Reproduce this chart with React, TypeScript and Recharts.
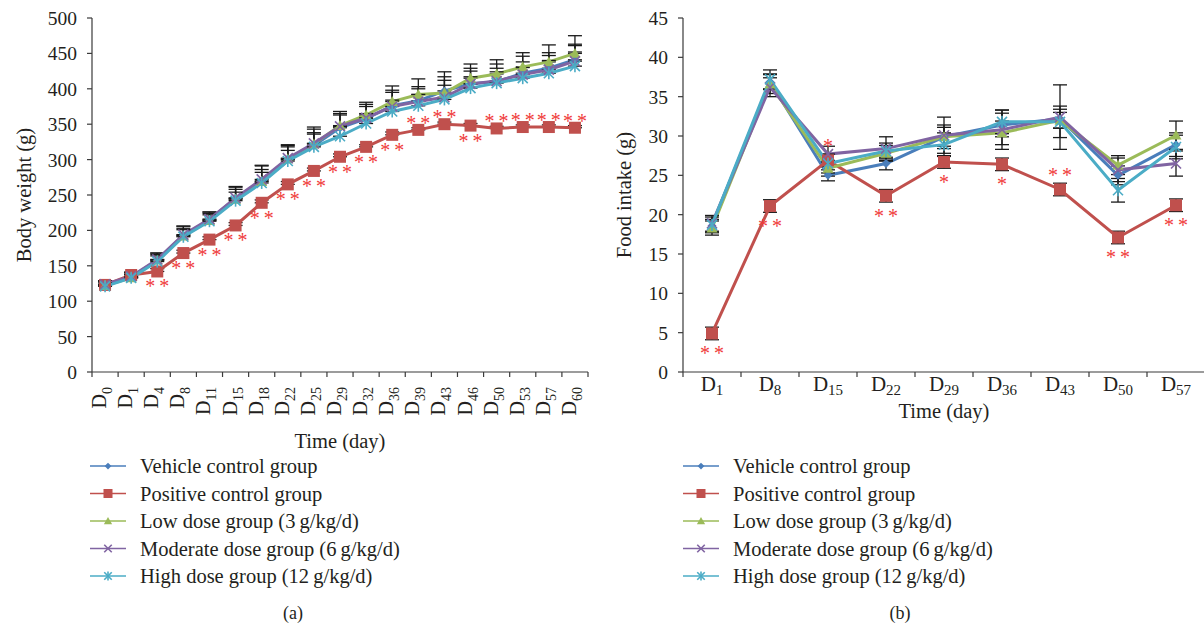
import React from 'react';
import { LineChart, Line, XAxis, YAxis, ErrorBar, LabelList } from 'recharts';

// (a) body weight, days
const leftDays = ['0', '1', '4', '8', '11', '15', '18', '22', '25', '29', '32', '36', '39', '43', '46', '50', '53', '57', '60'];
const leftYTicks = [0, 50, 100, 150, 200, 250, 300, 350, 400, 450, 500];
const vehicleWeight = [123, 134, 158, 193, 215, 245, 270, 300, 320, 345, 358, 376, 383, 397, 407, 410, 422, 429, 441];
const positiveWeight = [123, 137, 142, 168, 187, 207, 239, 265, 284, 304, 318, 335, 342, 350, 348, 344, 346, 346, 345];
const lowWeight = [122, 133, 158, 192, 214, 244, 269, 301, 322, 348, 363, 382, 392, 394, 415, 421, 431, 438, 450];
const moderateWeight = [124, 135, 159, 194, 216, 246, 272, 302, 323, 347, 359, 375, 382, 388, 407, 411, 420, 427, 439];
const highWeight = [121, 133, 156, 191, 213, 242, 267, 298, 318, 333, 351, 368, 376, 385, 401, 408, 415, 422, 432];
const vehicleWeightErr = [6, 6, 8, 10, 9, 13, 16, 18, 18, 20, 20, 22, 20, 20, 22, 25, 24, 22, 22];
const positiveWeightErr = [5, 4, 4, 4, 4, 4, 4, 4, 4, 4, 3, 4, 3, 3, 3, 3, 3, 3, 3];
const lowWeightErr = [7, 5, 10, 14, 12, 18, 22, 20, 24, 20, 18, 22, 22, 30, 20, 20, 20, 24, 25];
const moderateWeightErr = [5, 6, 9, 12, 10, 15, 20, 18, 20, 16, 16, 20, 18, 24, 18, 18, 18, 20, 22];
const highWeightErr = [5, 5, 8, 10, 9, 12, 15, 15, 18, 14, 14, 16, 16, 20, 16, 16, 15, 18, 20];
const weightSig = ['', '', '**', '**', '**', '**', '**', '**', '**', '**', '**', '**', '**', '**', '**', '**', '**', '**', '**'];
const weightSigSide = ['below', 'below', 'below', 'below', 'below', 'below', 'below', 'below', 'below', 'below', 'below', 'below', 'above', 'above', 'below', 'above', 'above', 'above', 'above'];

// (b) food intake
const rightDays = ['1', '8', '15', '22', '29', '36', '43', '50', '57'];
const rightYTicks = [0, 5, 10, 15, 20, 25, 30, 35, 40, 45];
const vehicleFood = [18.6, 36.9, 25.0, 26.5, 29.9, 31.4, 32.2, 25.0, 28.9];
const positiveFood = [4.9, 21.1, 26.9, 22.4, 26.7, 26.4, 23.2, 17.1, 21.2];
const lowFood = [18.3, 36.6, 25.9, 27.8, 29.9, 30.4, 32.0, 26.3, 30.1];
const moderateFood = [18.9, 36.2, 27.7, 28.4, 30.1, 30.8, 32.4, 25.7, 26.5];
const highFood = [18.7, 37.2, 26.5, 28.1, 28.9, 31.8, 31.8, 23.1, 28.6];
const vehicleFoodErr = [0.8, 1.0, 0.7, 0.8, 1.2, 1.5, 1.2, 1.2, 1.5];
const positiveFoodErr = [0.8, 0.8, 0.8, 0.8, 0.8, 0.8, 0.8, 0.8, 0.8];
const lowFoodErr = [0.9, 1.2, 1.0, 1.0, 1.5, 1.5, 1.0, 1.2, 1.8];
const moderateFoodErr = [1.0, 1.2, 1.0, 1.5, 2.3, 2.5, 4.1, 1.5, 1.6];
const highFoodErr = [1.0, 1.2, 1.2, 1.0, 1.5, 1.5, 2.0, 1.5, 1.5];
const foodSig = ['**', '**', '*', '**', '*', '*', '**', '**', '**'];
const foodSigSide = ['below', 'below', 'above', 'below', 'below', 'below', 'above', 'below', 'below'];

const groups = [
  { key: 'vehicle', name: 'Vehicle control group', color: '#4a7ebb', marker: 'diamond' },
  { key: 'positive', name: 'Positive control group', color: '#c0504d', marker: 'square' },
  { key: 'low', name: 'Low dose group (3\u2009g/kg/d)', color: '#9bbb59', marker: 'triangle' },
  { key: 'moderate', name: 'Moderate dose group (6\u2009g/kg/d)', color: '#8064a2', marker: 'cross' },
  { key: 'high', name: 'High dose group (12\u2009g/kg/d)', color: '#4bacc6', marker: 'star' },
];

const leftRows = leftDays.map((d, i) => ({
  day: d,
  vehicle: vehicleWeight[i], vehicleErr: [0, vehicleWeightErr[i]],
  positive: positiveWeight[i], positiveErr: [0, positiveWeightErr[i]],
  low: lowWeight[i], lowErr: [0, lowWeightErr[i]],
  moderate: moderateWeight[i], moderateErr: [0, moderateWeightErr[i]],
  high: highWeight[i], highErr: [0, highWeightErr[i]],
  sig: weightSig[i],
}));

const rightRows = rightDays.map((d, i) => ({
  day: d,
  vehicle: vehicleFood[i], vehicleErr: vehicleFoodErr[i],
  positive: positiveFood[i], positiveErr: positiveFoodErr[i],
  low: lowFood[i], lowErr: lowFoodErr[i],
  moderate: moderateFood[i], moderateErr: moderateFoodErr[i],
  high: highFood[i], highErr: highFoodErr[i],
  sig: foodSig[i],
}));

const FONT = '"Liberation Serif", "Times New Roman", serif';
const TEXT = '#231f20';
const AXIS = '#3a3a3a';
const SIG = '#f03a3a';
const LEFT_BAND = 496 / leftDays.length;
const RIGHT_BAND = 522 / rightDays.length;

function marker(kind: string, cx: number, cy: number, color: string, s = 1, key?: any) {
  if (cx == null || cy == null) return <g key={key} />;
  if (kind === 'square') {
    const h = 6 * s;
    return <rect key={key} x={cx - h} y={cy - h} width={2 * h} height={2 * h} fill={color} />;
  }
  if (kind === 'diamond') {
    const h = 4.5 * s;
    return <polygon key={key} points={`${cx},${cy - h} ${cx + h},${cy} ${cx},${cy + h} ${cx - h},${cy}`} fill={color} />;
  }
  if (kind === 'triangle') {
    const h = 5.5 * s;
    return <polygon key={key} points={`${cx},${cy - h} ${cx + h},${cy + h * 0.8} ${cx - h},${cy + h * 0.8}`} fill={color} />;
  }
  if (kind === 'cross') {
    const h = 5 * s;
    return (
      <g key={key} stroke={color} strokeWidth={1.6}>
        <line x1={cx - h} y1={cy - h} x2={cx + h} y2={cy + h} />
        <line x1={cx - h} y1={cy + h} x2={cx + h} y2={cy - h} />
      </g>
    );
  }
  const h = 5 * s;
  return (
    <g key={key} stroke={color} strokeWidth={1.6}>
      <line x1={cx - h} y1={cy - h} x2={cx + h} y2={cy + h} />
      <line x1={cx - h} y1={cy + h} x2={cx + h} y2={cy - h} />
      <line x1={cx} y1={cy - h * 1.2} x2={cx} y2={cy + h * 1.2} />
    </g>
  );
}

const LeftTick = (props: any) => {
  const { x, y, payload, index } = props;
  const half = LEFT_BAND / 2;
  return (
    <g>
      <line x1={x - half} x2={x - half} y1={y} y2={y + 5} stroke={AXIS} strokeWidth={1.2} />
      {index === leftDays.length - 1 && <line x1={x + half} x2={x + half} y1={y} y2={y + 5} stroke={AXIS} strokeWidth={1.2} />}
      <text transform={`translate(${x + 1},${y + 15}) rotate(-90)`} textAnchor="end" fontSize={20} fill={TEXT} fontFamily={FONT}>
        D<tspan fontSize={14} dy={6}>{payload.value}</tspan>
      </text>
    </g>
  );
};

const RightTick = (props: any) => {
  const { x, y, payload, index } = props;
  const half = RIGHT_BAND / 2;
  return (
    <g>
      <line x1={x - half} x2={x - half} y1={y} y2={y + 5} stroke={AXIS} strokeWidth={1.2} />
      {index === rightDays.length - 1 && <line x1={x + half} x2={x + half} y1={y} y2={y + 5} stroke={AXIS} strokeWidth={1.2} />}
      <text x={x} y={y + 19} textAnchor="middle" fontSize={21} fill={TEXT} fontFamily={FONT}>
        D<tspan fontSize={15} dy={4}>{payload.value}</tspan>
      </text>
    </g>
  );
};

const sigLabel = (sides: string[], below: number, above: number, size: number) => (props: any) => {
  const { x, y, index, value } = props;
  if (!value) return null;
  const c = sides[index] === 'below' ? y + below : y - above;
  return (
    <text key={`sig-${index}`} x={x} y={c + size * 0.5} textAnchor="middle" fill={SIG} fontSize={size} fontFamily={FONT}>
      {value.split('').join('\u2009')}
    </text>
  );
};

function series(errWidth: number, sw: number, sides: string[], below: number, above: number, sigSize: number) {
  return groups.map((g) => (
    <Line
      key={g.key}
      dataKey={g.key}
      stroke={g.color}
      strokeWidth={sw}
      isAnimationActive={false}
      activeDot={false}
      dot={(p: any) => marker(g.marker, p.cx, p.cy, g.color, 1, p.key ?? `${g.key}-${p.index}`)}
    >
      <ErrorBar dataKey={`${g.key}Err`} direction="y" width={errWidth} stroke="#1a1a1a" strokeWidth={1.3} />
      {g.key === 'positive' && <LabelList dataKey="sig" content={sigLabel(sides, below, above, sigSize)} />}
    </Line>
  ));
}

const tickStyle = { fontSize: 19.5, fill: TEXT, fontFamily: FONT };
const titleStyle = { fontSize: 20.5, fill: TEXT, fontFamily: FONT };

function Legend({ left, iconW, textX }: { left: number; iconW: number; textX: number }) {
  return (
    <g>
      {groups.map((g, i) => {
        const y = 466 + i * 27.5;
        return (
          <g key={g.key}>
            <line x1={left} x2={left + iconW} y1={y} y2={y} stroke={g.color} strokeWidth={1.6} />
            {marker(g.marker, left + iconW / 2, y, g.color, 0.75)}
            <text x={textX} y={y} dominantBaseline="central" fontSize={20.5} fill={TEXT} fontFamily={FONT}>
              {g.name}
            </text>
          </g>
        );
      })}
    </g>
  );
}

export default function App() {
  return (
    <div style={{ position: 'absolute', left: 0, top: 0, width: 1204, height: 628, overflow: 'hidden', background: '#fff' }}>
      <div style={{ position: 'absolute', left: 0, top: 0 }}>
        <LineChart width={600} height={628} data={leftRows} margin={{ top: 18, right: 12, bottom: 180, left: 0 }}>
          <XAxis
            dataKey="day"
            height={76}
            interval={0}
            tickSize={0}
            tickMargin={0}
            padding={{ left: LEFT_BAND / 2, right: LEFT_BAND / 2 }}
            tick={<LeftTick />}
            stroke={AXIS}
            strokeWidth={1.2}
            label={{ value: 'Time (day)', position: 'insideBottom', offset: 0, style: titleStyle }}
          />
          <YAxis
            width={92}
            domain={[0, 500]}
            ticks={leftYTicks}
            interval={0}
            tickSize={5}
            tickMargin={10}
            tick={tickStyle}
            stroke={AXIS}
            strokeWidth={1.2}
            label={{ value: 'Body weight (g)', angle: -90, position: 'insideLeft', offset: 24, style: { ...titleStyle, textAnchor: 'middle' } }}
          />
          {series(7, 3, weightSigSide, 12, 10, 20)}
        </LineChart>
      </div>
      <div style={{ position: 'absolute', left: 600, top: 0 }}>
        <LineChart width={605} height={628} data={rightRows} margin={{ top: 18, right: 0, bottom: 210, left: 0 }}>
          <XAxis
            dataKey="day"
            height={46}
            interval={0}
            tickSize={0}
            tickMargin={0}
            padding={{ left: RIGHT_BAND / 2, right: RIGHT_BAND / 2 }}
            tick={<RightTick />}
            stroke={AXIS}
            strokeWidth={1.2}
            label={{ value: 'Time (day)', position: 'insideBottom', offset: 0, style: titleStyle }}
          />
          <YAxis
            width={83}
            domain={[0, 45]}
            ticks={rightYTicks}
            interval={0}
            tickSize={5}
            tickMargin={10}
            tick={tickStyle}
            stroke={AXIS}
            strokeWidth={1.2}
            label={{ value: 'Food intake (g)', angle: -90, position: 'insideLeft', offset: 24, style: { ...titleStyle, textAnchor: 'middle' } }}
          />
          {series(7, 3, foodSigSide, 17, 17, 20)}
        </LineChart>
      </div>
      <svg width={1204} height={628} style={{ position: 'absolute', left: 0, top: 0, pointerEvents: 'none' }}>
        <Legend left={90} iconW={36} textX={140} />
        <Legend left={683} iconW={36} textX={733} />
        <text x={293} y={613} textAnchor="middle" dominantBaseline="central" fontSize={18} fill={TEXT} fontFamily={FONT}>(a)</text>
        <text x={900} y={613} textAnchor="middle" dominantBaseline="central" fontSize={18} fill={TEXT} fontFamily={FONT}>(b)</text>
      </svg>
    </div>
  );
}
